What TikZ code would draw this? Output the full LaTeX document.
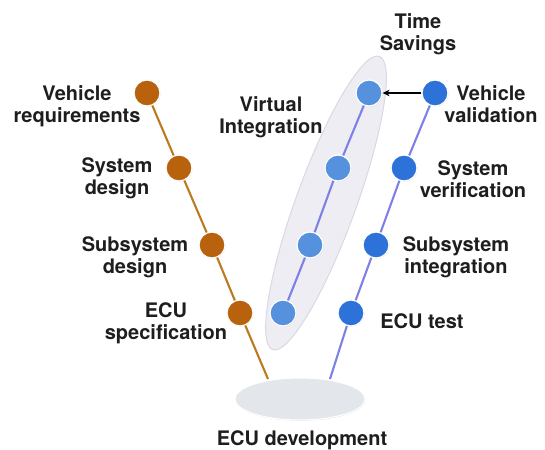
\documentclass[tikz,border=0pt]{standalone}
\usepackage{fontspec}
\setmainfont{TeX Gyre Heros}
\usetikzlibrary{arrows.meta,shadows,shapes.geometric}
\definecolor{rust}{HTML}{B8620E}
\definecolor{rustline}{HTML}{BC7A20}
\definecolor{virt}{HTML}{5591DD}
\definecolor{real}{HTML}{2C72D9}
\definecolor{vline}{HTML}{7F80E6}
\definecolor{halo}{HTML}{EDEDF3}
\definecolor{halob}{HTML}{D9D9E5}
\definecolor{basefill}{HTML}{E3E7EB}
\definecolor{txt}{HTML}{1E1E1E}
\tikzset{
  dot/.style={circle, minimum size=26pt, inner sep=0pt, draw=white, line width=1.2pt,
    drop shadow={shadow xshift=0.6pt, shadow yshift=-0.6pt, opacity=0.25}},
  lbl/.style={font=\bfseries\fontsize{20}{22}\selectfont, text=txt, align=center, inner sep=0pt},
  phase/.style={line width=2.1pt}
}
\begin{document}
\begin{tikzpicture}[x=1pt,y=-1pt]
\useasboundingbox (0,0) rectangle (545,449);
% halo around the virtual integration steps
\node[ellipse, draw=halob, fill=halo, line width=1pt, minimum width=312pt, minimum height=60pt,
  rotate=70, inner sep=0pt] (halo) at (326,203) {};
% base ellipse
\node[ellipse, draw=white, fill=basefill, line width=1pt, minimum width=130pt, minimum height=42pt,
  inner sep=0pt, drop shadow={shadow xshift=0.5pt, shadow yshift=-0.8pt, opacity=0.2}] (base) at (300,399) {};
\coordinate (bl) at (268,379);
\coordinate (br) at (330,379);
% process steps
\node[dot, fill=rust] (d1) at (147,93) {};
\node[dot, fill=rust] (d2) at (179,168) {};
\node[dot, fill=rust] (d3) at (212,245) {};
\node[dot, fill=rust] (d4) at (240,313) {};
\node[dot, fill=virt] (v1) at (369,93) {};
\node[dot, fill=virt] (v2) at (338,168) {};
\node[dot, fill=virt] (v3) at (310,245) {};
\node[dot, fill=virt] (v4) at (283,313) {};
\node[dot, fill=real] (r1) at (435,93) {};
\node[dot, fill=real] (r2) at (404,168) {};
\node[dot, fill=real] (r3) at (376,245) {};
\node[dot, fill=real] (r4) at (351,313) {};
% connectors
\draw[phase, rustline] (d1) -- (d2) -- (d3) -- (d4) -- (bl);
\draw[phase, vline] (v1) -- (v2) -- (v3) -- (v4);
\draw[phase, vline] (r1) -- (r2) -- (r3) -- (r4) -- (br);
\draw[-{Stealth[length=7pt,width=6.5pt]}, line width=1.8pt, black] (r1) -- (v1);
% labels
\node[lbl] (t1) at (77,106.5) {Vehicle\\requirements};
\node[lbl] (t2) at (117,178.5) {System\\design};
\node[lbl] (t3) at (135,257.5) {Subsystem\\design};
\node[lbl] (t4) at (166,323.5) {ECU\\specification};
\node[lbl] (tv) at (271,117.5) {Virtual\\Integration};
\node[lbl] (ts) at (418,34) {Time\\Savings};
\node[lbl] (t5) at (491,104) {Vehicle\\validation};
\node[lbl] (t6) at (473,179) {System\\verification};
\node[lbl] (t7) at (456,257.5) {Subsystem\\integration};
\node[lbl, anchor=base] (t8) at (422,328) {ECU test};
\node[lbl, anchor=base] (te) at (302,445) {ECU development};
\end{tikzpicture}
\end{document}
